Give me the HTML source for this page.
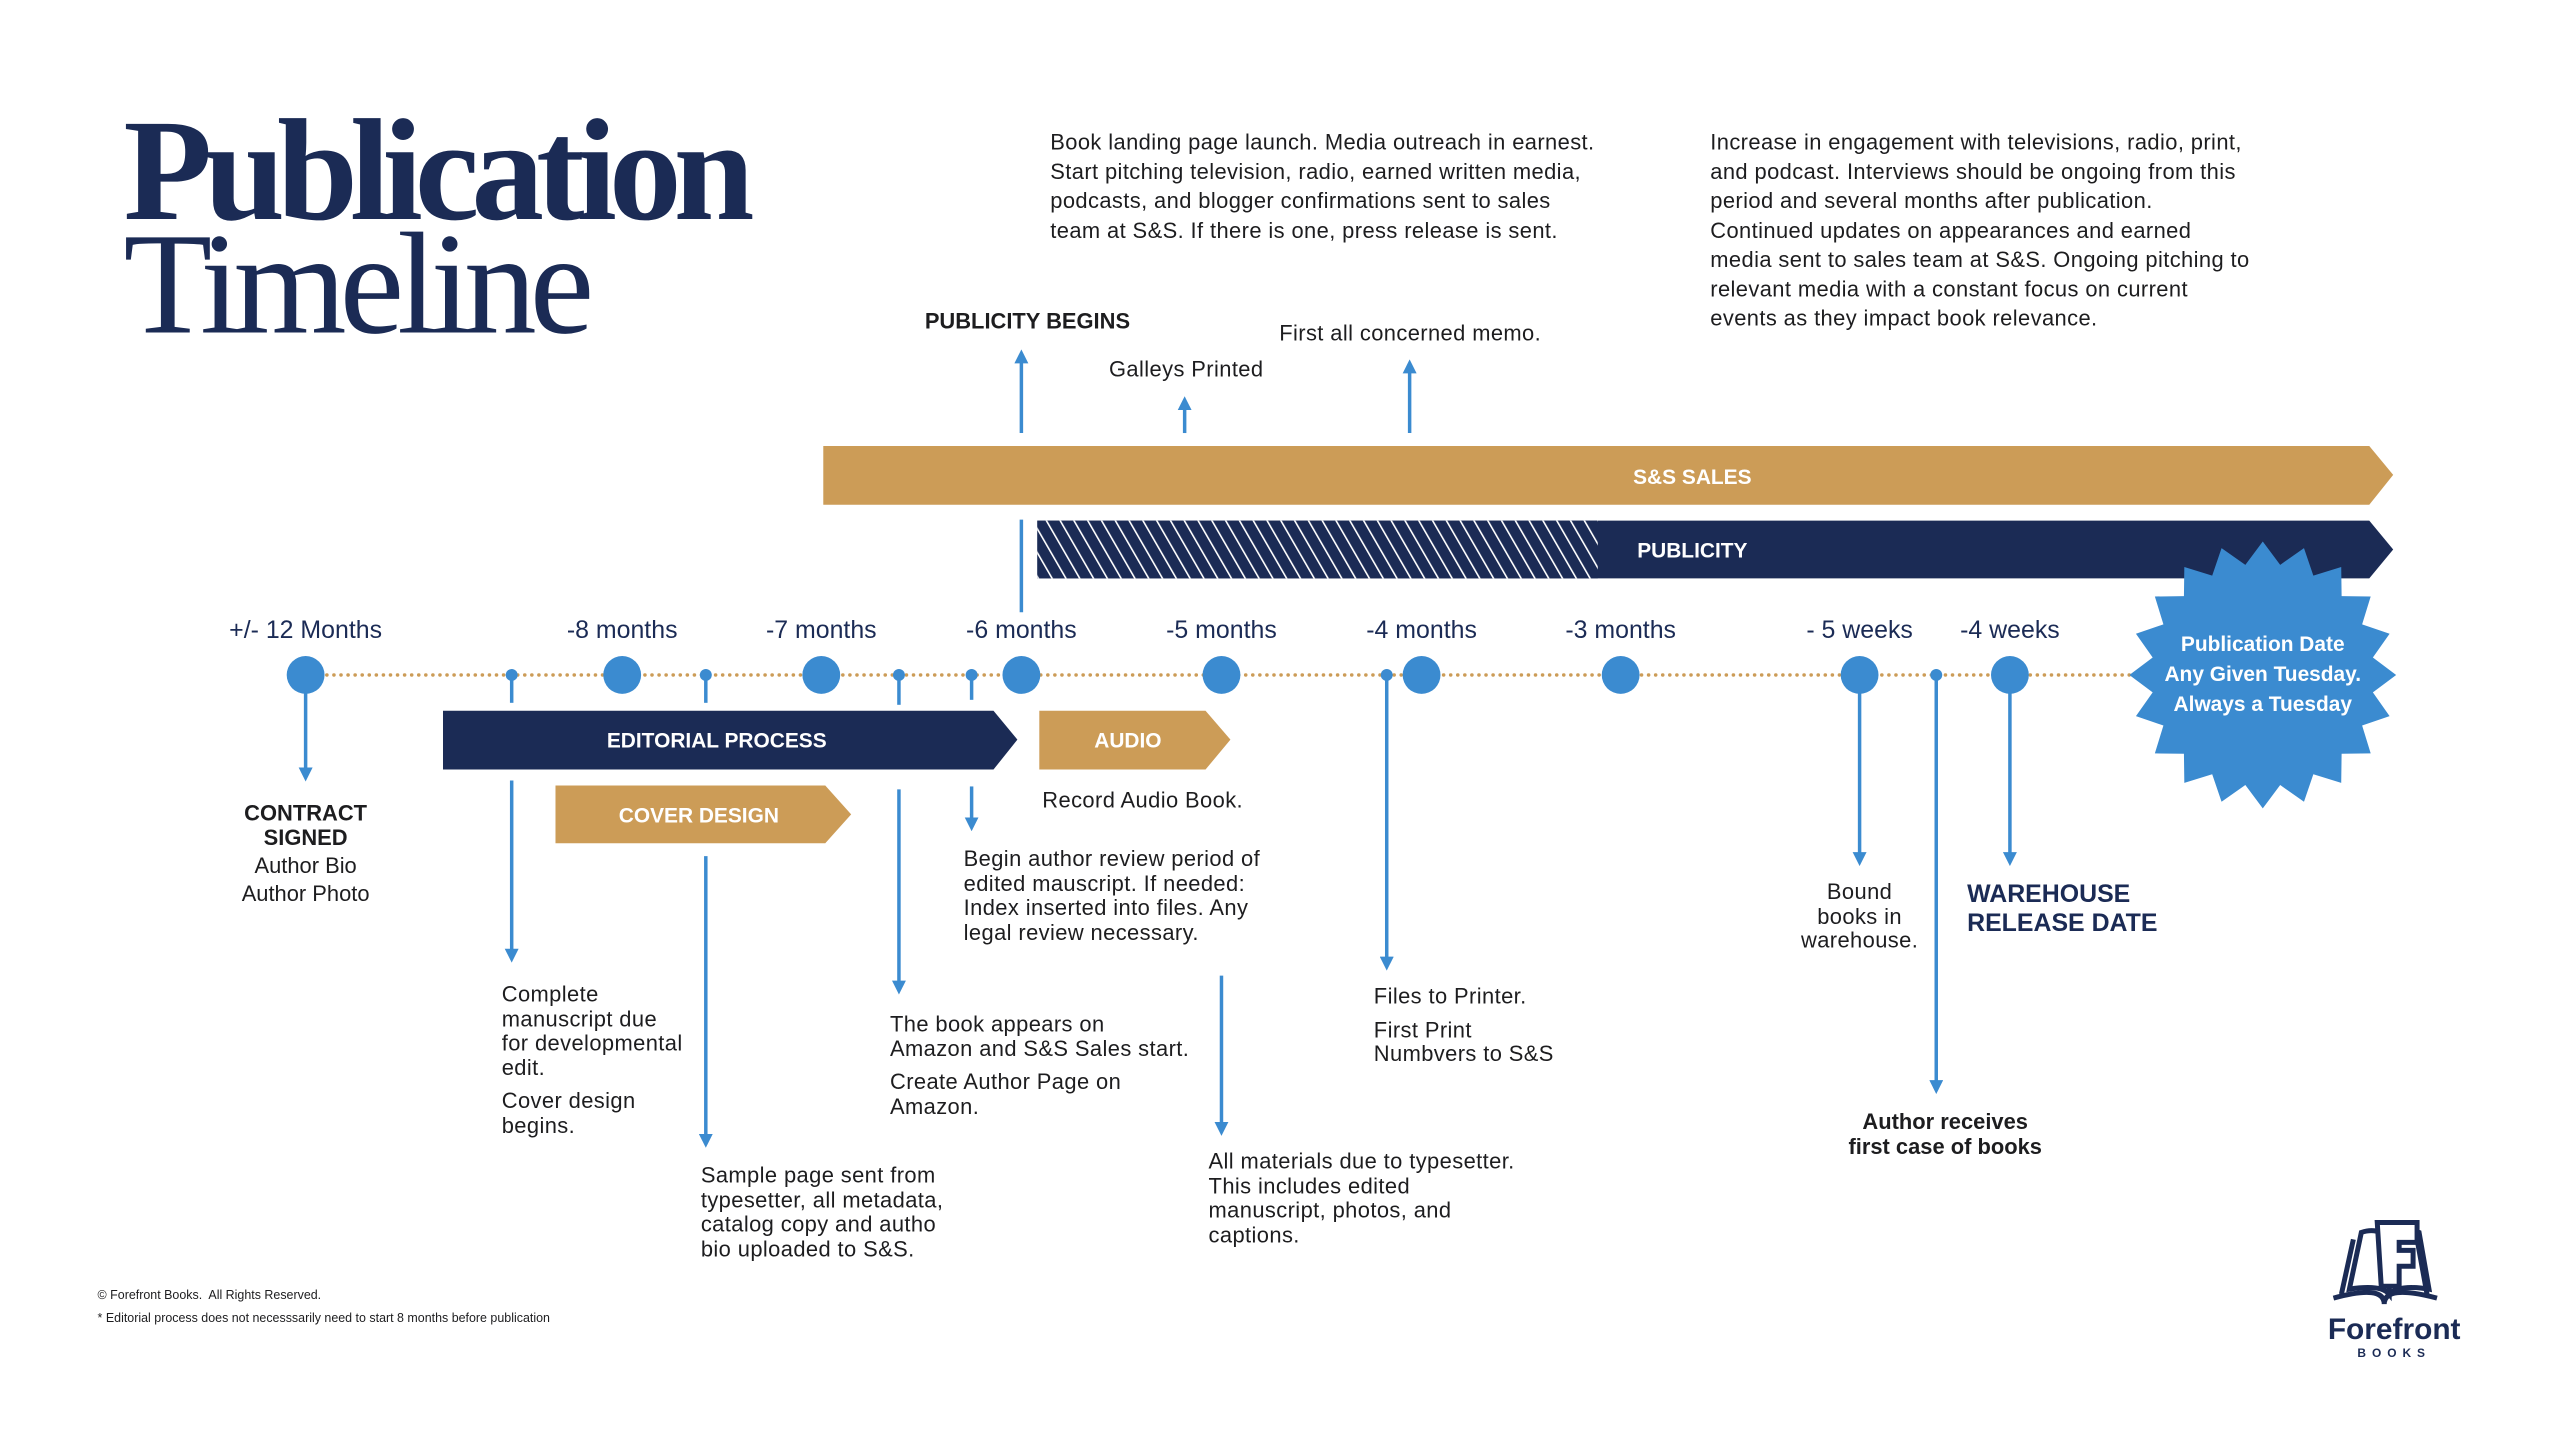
<!DOCTYPE html>
<html><head><meta charset="utf-8"><style>
body{margin:0;width:2560px;height:1440px;background:#fff;overflow:hidden;font-family:"Liberation Sans",sans-serif;color:#1d1d1f}
#w{position:absolute;left:0;top:0;width:2560px;height:1440px;transform:scale(0.9955);transform-origin:0 0}
.t{position:absolute;font-size:22px;letter-spacing:0.4px;line-height:24.5px;white-space:nowrap}
.m{position:absolute;font-size:25px;color:#1b2b55;transform:translateX(-50%);white-space:nowrap;top:619px}
.c{text-align:center;transform:translateX(-50%)}
.b{font-weight:bold}
</style></head><body><div id="w">
<div style="position:absolute;left:124px;top:96px;font-family:'Liberation Serif',serif;font-weight:bold;font-size:146px;color:#1b2b55;letter-spacing:-8px;line-height:150px">Publication</div>
<div style="position:absolute;left:124px;top:210px;font-family:'Liberation Serif',serif;font-size:146px;color:#1b2b55;letter-spacing:-7px;line-height:150px">Timeline</div>

<svg style="position:absolute;left:0;top:0" width="2560" height="1440">
<defs>
<pattern id="h" width="12" height="12" patternUnits="userSpaceOnUse" patternTransform="rotate(-30)">
<rect width="12" height="12" fill="#1b2b55"/><rect x="0" width="1.6" height="12" fill="#fff"/></pattern>
<marker id="a" viewBox="0 0 10 10" refX="5" refY="5" markerWidth="4" markerHeight="4" orient="auto-start-reverse"><path d="M0,0L10,5L0,10z" fill="#3b8bd0"/></marker>
</defs>
<polygon points="827,448 2380,448 2404,477 2380,507 827,507" fill="#cc9c57"/>
<polygon points="1042,523 2380,523 2404,552 2380,581 1042,581" fill="#1b2b55"/>
<rect x="1042" y="523" width="563" height="58" fill="url(#h)"/>
<polygon points="445,714 998,714 1022,743 998,773 445,773" fill="#1b2b55"/>
<polygon points="1044,714 1211,714 1236,743 1211,773 1044,773" fill="#cc9c57"/>
<polygon points="558,789 829,789 855,818 829,847 558,847" fill="#cc9c57"/>
<line x1="307" y1="678" x2="2150" y2="678" stroke="#cc9c57" stroke-width="3.5" stroke-dasharray="0.1 7" stroke-linecap="round"/>
<g stroke="#3b8bd0" stroke-width="3.5" fill="none">
<line x1="1026" y1="522" x2="1026" y2="615"/>
<line x1="1026" y1="435" x2="1026" y2="358" marker-end="url(#a)"/>
<line x1="1190" y1="435" x2="1190" y2="405" marker-end="url(#a)"/>
<line x1="1416" y1="435" x2="1416" y2="368" marker-end="url(#a)"/>
<line x1="307" y1="690" x2="307" y2="778" marker-end="url(#a)"/>
<line x1="514" y1="678" x2="514" y2="706"/><line x1="514" y1="784" x2="514" y2="960" marker-end="url(#a)"/>
<line x1="709" y1="678" x2="709" y2="706"/><line x1="709" y1="860" x2="709" y2="1146" marker-end="url(#a)"/>
<line x1="903" y1="678" x2="903" y2="708"/><line x1="903" y1="793" x2="903" y2="992" marker-end="url(#a)"/>
<line x1="976" y1="678" x2="976" y2="703"/><line x1="976" y1="790" x2="976" y2="828" marker-end="url(#a)"/>
<line x1="1227" y1="980" x2="1227" y2="1134" marker-end="url(#a)"/>
<line x1="1393" y1="678" x2="1393" y2="968" marker-end="url(#a)"/>
<line x1="1868" y1="678" x2="1868" y2="863" marker-end="url(#a)"/>
<line x1="1945" y1="678" x2="1945" y2="1092" marker-end="url(#a)"/>
<line x1="2019" y1="678" x2="2019" y2="863" marker-end="url(#a)"/>
</g>
<g fill="#3b8bd0">
<circle cx="307" cy="678" r="19"/><circle cx="625" cy="678" r="19"/><circle cx="825" cy="678" r="19"/><circle cx="1026" cy="678" r="19"/><circle cx="1227" cy="678" r="19"/><circle cx="1428" cy="678" r="19"/><circle cx="1628" cy="678" r="19"/><circle cx="1868" cy="678" r="19"/><circle cx="2019" cy="678" r="19"/>
<circle cx="514" cy="678" r="6"/><circle cx="709" cy="678" r="6"/><circle cx="903" cy="678" r="6"/><circle cx="976" cy="678" r="6"/><circle cx="1393" cy="678" r="6"/><circle cx="1945" cy="678" r="6"/>
<polygon id="star" points=""/>
</g>
<g font-family="Liberation Sans,sans-serif" font-weight="bold" fill="#fff" text-anchor="middle">
<text x="1700" y="486" font-size="21">S&amp;S SALES</text>
<text x="1700" y="560" font-size="21">PUBLICITY</text>
<text x="720" y="751" font-size="21">EDITORIAL PROCESS</text>
<text x="1133" y="751" font-size="21">AUDIO</text>
<text x="702" y="826" font-size="21">COVER DESIGN</text>
<text x="2273" y="654" font-size="21">Publication Date</text>
<text x="2273" y="684" font-size="21">Any Given Tuesday.</text>
<text x="2273" y="714" font-size="21">Always a Tuesday</text>
</g>
<g fill="none" stroke="#1b2b55" stroke-width="5">
<path d="M2352,1300 L2364,1245 M2438,1300 L2428,1245"/>
<path d="M2344,1304 Q2395,1290 2395,1310 Q2395,1290 2448,1304"/>
<path d="M2360,1295 L2372,1238 Q2390,1232 2400,1246 L2400,1300 Q2392,1290 2360,1295 Z"/>
<path d="M2400,1300 L2400,1246 Q2415,1232 2430,1238 L2440,1295 Q2410,1290 2400,1300Z"/>
</g>
<path d="M2388,1228 L2428,1228 L2428,1248 L2410,1248 L2410,1256 L2424,1256 L2424,1272 L2410,1272 L2410,1292 L2392,1292 Z" fill="#fff" stroke="#1b2b55" stroke-width="5"/>
<text x="2405" y="1345" text-anchor="middle" font-family="Liberation Sans,sans-serif" font-weight="bold" font-size="30" fill="#1b2b55">Forefront</text>
<text x="2405" y="1363" text-anchor="middle" font-family="Liberation Sans,sans-serif" font-weight="bold" font-size="12" letter-spacing="6" fill="#1b2b55">BOOKS</text>
</svg>
<script>
var p=[],n=20,cx=2273,cy=678;for(var i=0;i<2*n;i++){var r=i%2?112:134,a=Math.PI*i/n-Math.PI/2;p.push((cx+r*Math.cos(a)).toFixed(1)+','+(cy+r*Math.sin(a)).toFixed(1));}
document.getElementById('star').setAttribute('points',p.join(' '));
</script>

<div class="t" style="left:1055px;top:128px;line-height:29.5px">Book landing page launch. Media outreach in earnest.<br>Start pitching television, radio, earned written media,<br>podcasts, and blogger confirmations sent to sales<br>team at S&amp;S. If there is one, press release is sent.</div>
<div class="t" style="left:1718px;top:128px;line-height:29.5px">Increase in engagement with televisions, radio, print,<br>and podcast. Interviews should be ongoing from this<br>period and several months after publication.<br>Continued updates on appearances and earned<br>media sent to sales team at S&amp;S. Ongoing pitching to<br>relevant media with a constant focus on current<br>events as they impact book relevance.</div>
<div class="t b" style="left:929px;top:311px;letter-spacing:0">PUBLICITY BEGINS</div>
<div class="t" style="left:1114px;top:359px">Galleys Printed</div>
<div class="t" style="left:1285px;top:323px">First all concerned memo.</div>

<div class="m" style="left:307px">+/- 12 Months</div>
<div class="m" style="left:625px">-8 months</div>
<div class="m" style="left:825px">-7 months</div>
<div class="m" style="left:1026px">-6 months</div>
<div class="m" style="left:1227px">-5 months</div>
<div class="m" style="left:1428px">-4 months</div>
<div class="m" style="left:1628px">-3 months</div>
<div class="m" style="left:1868px">- 5 weeks</div>
<div class="m" style="left:2019px">-4 weeks</div>

<div class="t c" style="left:307px;top:805px;letter-spacing:0"><b>CONTRACT<br>SIGNED</b><br><span style="line-height:32px">Author Bio</span><br>Author Photo</div>
<div class="t" style="left:504px;top:987px">Complete<br>manuscript due<br>for developmental<br>edit.<br><div style="height:9px"></div>Cover design<br>begins.</div>
<div class="t" style="left:704px;top:1169px">Sample page sent from<br>typesetter, all metadata,<br>catalog copy and autho<br>bio uploaded to S&amp;S.</div>
<div class="t" style="left:894px;top:1017px">The book appears on<br>Amazon and S&amp;S Sales start.<div style="height:9px"></div>Create Author Page on<br>Amazon.</div>
<div class="t" style="left:1047px;top:792px">Record Audio Book.</div>
<div class="t" style="left:968px;top:851px">Begin author review period of<br>edited mauscript. If needed:<br>Index inserted into files. Any<br>legal review necessary.</div>
<div class="t" style="left:1214px;top:1155px">All materials due to typesetter.<br>This includes edited<br>manuscript, photos, and<br>captions.</div>
<div class="t" style="left:1380px;top:989px">Files to Printer.<div style="height:9px"></div>First Print<br>Numbvers to S&amp;S</div>
<div class="t c" style="left:1868px;top:884px">Bound<br>books in<br>warehouse.</div>
<div class="t b" style="left:1976px;top:884px;font-size:25px;line-height:29px;color:#1b2b55;letter-spacing:0">WAREHOUSE<br>RELEASE DATE</div>
<div class="t c b" style="left:1954px;top:1115px;letter-spacing:0">Author receives<br>first case of books</div>
<div class="t" style="left:98px;top:1293px;font-size:12.5px;line-height:16px;letter-spacing:0">© Forefront Books.&nbsp; All Rights Reserved.</div>
<div class="t" style="left:98px;top:1316px;font-size:12.5px;line-height:16px;letter-spacing:0">* Editorial process does not necesssarily need to start 8 months before publication</div>
</div></body></html>
